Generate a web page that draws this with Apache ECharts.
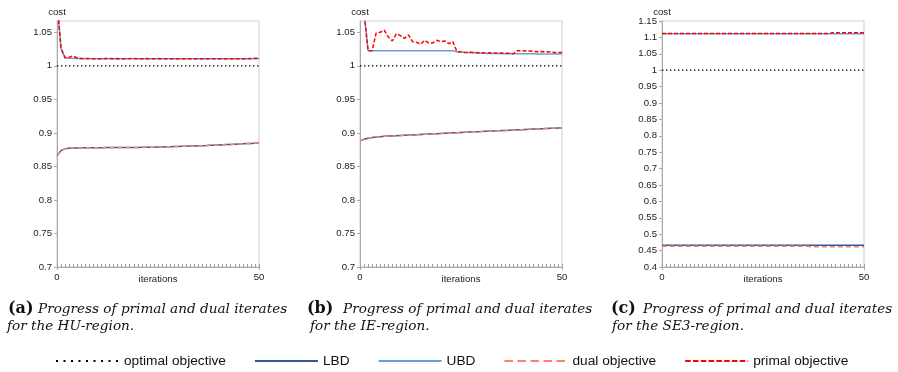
<!DOCTYPE html>
<html><head><meta charset="utf-8">
<script src="https://cdn.jsdelivr.net/npm/echarts@6/dist/echarts.min.js"></script>
<style>html,body{margin:0;padding:0;background:#fff}#c{width:898px;height:372px}</style>
</head><body><div id="c"></div>
<script>
const iterations = [0,1,2,3,4,5,6,7,8,9,10,11,12,13,14,15,16,17,18,19,20,21,22,23,24,25,26,27,28,29,30,31,32,33,34,35,36,37,38,39,40,41,42,43,44,45,46,47,48,49,50];
const xTickLabels = [0, 50];
const optimalIters = [0, 50];
const optimal = [1, 1];

// (a) HU-region
const primalA = [
 1.095, 1.026, 1.012, 1.0126, 1.0146, 1.0116, 1.0108, 1.0107, 1.0108, 1.0106,
 1.0107, 1.0106, 1.0107, 1.0108, 1.0106, 1.0107, 1.0106, 1.0106, 1.0107, 1.0109,
 1.0106, 1.0106, 1.0107, 1.0106, 1.0106, 1.0107, 1.0106, 1.0106, 1.0105, 1.0106,
 1.0106, 1.0105, 1.0106, 1.0105, 1.0105, 1.0106, 1.0105, 1.0105, 1.0105, 1.0104,
 1.0105, 1.0105, 1.0104, 1.0105, 1.0104, 1.0104, 1.0105, 1.0106, 1.0109, 1.0112,
 1.0114];
const ubdA = [
 1.095, 1.026, 1.0115, 1.0112, 1.011, 1.0108, 1.0106, 1.0105, 1.0105, 1.0105,
 1.0105, 1.0105, 1.0105, 1.0105, 1.0105, 1.0105, 1.0105, 1.0105, 1.0105, 1.0105,
 1.0105, 1.0105, 1.0105, 1.0105, 1.0105, 1.0105, 1.0105, 1.0105, 1.0104, 1.0104,
 1.0104, 1.0104, 1.0104, 1.0104, 1.0104, 1.0104, 1.0104, 1.0104, 1.0104, 1.0104,
 1.0104, 1.0104, 1.0104, 1.0104, 1.0104, 1.0104, 1.0104, 1.0104, 1.0104, 1.0104,
 1.0104];
const lbdA = [
 0.866, 0.8735, 0.8765, 0.8771, 0.8774, 0.8776, 0.8777, 0.8778, 0.8778, 0.8779,
 0.8779, 0.8779, 0.878, 0.878, 0.878, 0.8781, 0.8781, 0.8781, 0.8782, 0.8782,
 0.8783, 0.8784, 0.8785, 0.8786, 0.8787, 0.8789, 0.879, 0.8792, 0.8794, 0.8796,
 0.8798, 0.88, 0.8801, 0.8803, 0.8805, 0.8807, 0.8809, 0.8811, 0.8814, 0.8816,
 0.8819, 0.8822, 0.8825, 0.8828, 0.8831, 0.8834, 0.8837, 0.884, 0.8843, 0.8846,
 0.8848];
const dualA = [
 0.8655, 0.8733, 0.8764, 0.877, 0.8774, 0.8775, 0.8777, 0.8777, 0.8778, 0.8779,
 0.8778, 0.8779, 0.878, 0.8779, 0.878, 0.8781, 0.878, 0.8781, 0.8782, 0.8781,
 0.8783, 0.8783, 0.8785, 0.8786, 0.8786, 0.8789, 0.8789, 0.8792, 0.8793, 0.8796,
 0.8797, 0.88, 0.8801, 0.8802, 0.8805, 0.8806, 0.8809, 0.881, 0.8814, 0.8815,
 0.8819, 0.8821, 0.8825, 0.8827, 0.8831, 0.8833, 0.8837, 0.8839, 0.8843, 0.8845,
 0.8848];

// (b) IE-region
const primalB = [
 1.2, 1.08, 1.0225, 1.0225, 1.049, 1.050, 1.053, 1.043, 1.037, 1.048,
 1.045, 1.041, 1.046, 1.036, 1.035, 1.032, 1.038, 1.034, 1.034, 1.038,
 1.036, 1.037, 1.033, 1.036, 1.021, 1.021, 1.020, 1.0205, 1.020, 1.0195,
 1.0195, 1.019, 1.0193, 1.019, 1.0187, 1.019, 1.0188, 1.0187, 1.018, 1.0227,
 1.0225, 1.0222, 1.022, 1.0215, 1.021, 1.0212, 1.021, 1.0205, 1.020, 1.0198,
 1.020];
const ubdB = [
 1.2, 1.08, 1.0225, 1.0225, 1.0225, 1.0225, 1.0225, 1.0225, 1.0225, 1.0225,
 1.0225, 1.0225, 1.0225, 1.0225, 1.0225, 1.0225, 1.0225, 1.0225, 1.0225, 1.0225,
 1.0225, 1.0225, 1.0225, 1.0225, 1.021, 1.0205, 1.0198, 1.0196, 1.0193, 1.019,
 1.0188, 1.0186, 1.0185, 1.0184, 1.0183, 1.0182, 1.0181, 1.018, 1.0179, 1.0179,
 1.0179, 1.0178, 1.0178, 1.0178, 1.0177, 1.0177, 1.0177, 1.0177, 1.0177, 1.0177,
 1.0177];
const lbdB = [
 0.888, 0.8905, 0.892, 0.893, 0.8937, 0.8943, 0.8948, 0.8952, 0.8955, 0.8958,
 0.8961, 0.8964, 0.8967, 0.897, 0.8973, 0.8976, 0.8979, 0.8982, 0.8985, 0.8988,
 0.8991, 0.8994, 0.8997, 0.9, 0.9003, 0.9006, 0.9009, 0.9012, 0.9015, 0.9018,
 0.902, 0.9023, 0.9026, 0.9029, 0.9032, 0.9034, 0.9037, 0.904, 0.9043, 0.9046,
 0.9048, 0.9051, 0.9054, 0.9057, 0.9059, 0.9062, 0.9065, 0.9068, 0.907, 0.9073,
 0.9076];
const dualB = [
 0.8878, 0.8903, 0.8919, 0.8929, 0.8937, 0.8942, 0.8948, 0.8951, 0.8955, 0.8957,
 0.8961, 0.8963, 0.8967, 0.8969, 0.8973, 0.8975, 0.8979, 0.8981, 0.8985, 0.8987,
 0.8991, 0.8993, 0.8997, 0.8999, 0.9003, 0.9005, 0.9009, 0.9011, 0.9015, 0.9017,
 0.902, 0.9022, 0.9026, 0.9028, 0.9032, 0.9033, 0.9037, 0.9039, 0.9043, 0.9045,
 0.9048, 0.905, 0.9054, 0.9056, 0.9059, 0.9061, 0.9065, 0.9067, 0.907, 0.9072,
 0.9076];

// (c) SE3-region
const primalC = [
 1.112, 1.112, 1.112, 1.112, 1.112, 1.112, 1.112, 1.112, 1.112, 1.112,
 1.112, 1.112, 1.112, 1.112, 1.112, 1.112, 1.112, 1.112, 1.112, 1.112,
 1.112, 1.112, 1.112, 1.112, 1.112, 1.112, 1.112, 1.112, 1.112, 1.112,
 1.112, 1.112, 1.112, 1.112, 1.112, 1.112, 1.112, 1.112, 1.112, 1.112,
 1.112, 1.112, 1.1138, 1.1138, 1.1138, 1.1138, 1.1138, 1.1138, 1.1138, 1.1138,
 1.1138];
const ubdC = [
 1.1115, 1.1115, 1.1115, 1.1115, 1.1115, 1.1115, 1.1115, 1.1115, 1.1115, 1.1115,
 1.1115, 1.1115, 1.1115, 1.1115, 1.1115, 1.1115, 1.1115, 1.1115, 1.1115, 1.1115,
 1.1115, 1.1115, 1.1115, 1.1115, 1.1115, 1.1115, 1.1115, 1.1115, 1.1115, 1.1115,
 1.1115, 1.1115, 1.1115, 1.1115, 1.1115, 1.1115, 1.1115, 1.1115, 1.1115, 1.1115,
 1.1115, 1.1115, 1.1115, 1.1115, 1.1115, 1.1115, 1.1115, 1.1115, 1.1115, 1.1115,
 1.1115];
const lbdC = [
 0.466, 0.466, 0.466, 0.466, 0.466, 0.466, 0.466, 0.466, 0.466, 0.466,
 0.466, 0.466, 0.466, 0.466, 0.466, 0.466, 0.466, 0.466, 0.466, 0.466,
 0.466, 0.466, 0.466, 0.466, 0.466, 0.466, 0.466, 0.466, 0.466, 0.466,
 0.466, 0.466, 0.466, 0.466, 0.466, 0.466, 0.466, 0.466, 0.466, 0.466,
 0.466, 0.466, 0.466, 0.466, 0.466, 0.466, 0.466, 0.466, 0.466, 0.466,
 0.466];
const dualC = [
 0.4635, 0.4635, 0.4635, 0.4635, 0.4635, 0.4635, 0.4635, 0.4635, 0.4635, 0.4635,
 0.4635, 0.4635, 0.4635, 0.4635, 0.4635, 0.4635, 0.4635, 0.4635, 0.4635, 0.4635,
 0.4635, 0.4635, 0.4635, 0.4635, 0.4635, 0.4635, 0.4635, 0.4635, 0.4635, 0.4635,
 0.4635, 0.4635, 0.4635, 0.4635, 0.4635, 0.4635, 0.4635, 0.4618, 0.4618, 0.4618,
 0.4618, 0.4618, 0.4618, 0.4618, 0.4618, 0.4618, 0.4618, 0.4618, 0.4618, 0.4618,
 0.4618];

const seriesNames = ['optimal objective', 'LBD', 'UBD', 'dual objective', 'primal objective'];
const captionLabels = ['(a)', '(b)', '(c)'];
const captionLine1 = ['Progress of primal and dual iterates', 'Progress of primal and dual iterates', 'Progress of primal and dual iterates'];
const captionLine2 = ['for the HU-region.', 'for the IE-region.', 'for the SE3-region.'];

const panels = [
  {left: 57, yMin: 0.7, yMax: 1.0668, data: [lbdA, ubdA, dualA, primalA], capX: [8, 38, 7]},
  {left: 360, yMin: 0.7, yMax: 1.0668, data: [lbdB, ubdB, dualB, primalB], capX: [307, 343, 310]},
  {left: 662, yMin: 0.4, yMax: 1.15, data: [lbdC, ubdC, dualC, primalC], capX: [611, 643, 612]}
];

const SANS = 'Liberation Sans';
const colors = {opt: '#000000', lbd: '#2b5c96', ubd: '#6c9fd8', dual: '#ff8266', primal: '#ff0000'};
const styles = [
  {color: colors.opt, type: [1.4, 2.6], width: 1.2},
  {color: colors.lbd, type: 'solid', width: 1.5},
  {color: colors.ubd, type: 'solid', width: 1.5},
  {color: colors.dual, type: [5, 3], width: 1.5},
  {color: colors.primal, type: [4, 2], width: 1.5}
];

const grids = [], xAxes = [], yAxes = [], series = [], graphics = [];
panels.forEach((p, k) => {
  grids.push({left: p.left, top: 21, width: 202, height: 246, show: true, borderColor: '#cfcfcf', borderWidth: 1, backgroundColor: 'transparent'});
  xAxes.push({
    type: 'value', gridIndex: k, min: 0, max: 50, interval: 50, position: 'bottom',
    name: 'iterations', nameLocation: 'middle', nameGap: 7, nameMoveOverlap: false,
    nameTextStyle: {fontFamily: SANS, fontSize: 9.6, color: '#222'},
    axisLine: {show: true, onZero: false, lineStyle: {color: '#a9a9a9', width: 1}},
    axisTick: {show: true, inside: false, length: 3, lineStyle: {color: '#a9a9a9'}},
    axisLabel: {show: true, margin: 5, fontFamily: SANS, fontSize: 9.6, color: '#222',
      formatter: v => xTickLabels.indexOf(v) >= 0 ? String(v) : ''},
    splitLine: {show: false}
  });
  xAxes.push({
    type: 'value', gridIndex: k, min: 0, max: 50, interval: 1, position: 'bottom',
    axisLine: {show: false, onZero: false},
    axisTick: {show: true, inside: true, length: 3, lineStyle: {color: '#a0a0a0'}},
    axisLabel: {show: false}, splitLine: {show: false}
  });
  yAxes.push({
    type: 'value', gridIndex: k, min: p.yMin, max: p.yMax, interval: 0.05,
    name: 'cost', nameLocation: 'end', nameGap: 4, nameMoveOverlap: false,
    nameTextStyle: {fontFamily: SANS, fontSize: 9.6, color: '#222', align: 'center'},
    axisLine: {show: true, lineStyle: {color: '#a9a9a9', width: 1}},
    axisTick: {show: true, length: 3, lineStyle: {color: '#a9a9a9'}},
    axisLabel: {margin: 5, fontFamily: SANS, fontSize: 9.6, color: '#222', showMaxLabel: k === 2},
    splitLine: {show: false}
  });
  const xi = 2 * k;
  series.push({
    name: seriesNames[0], type: 'line', xAxisIndex: xi, yAxisIndex: k, symbol: 'none', z: 2,
    data: optimalIters.map((x, j) => [x, optimal[j]]),
    lineStyle: styles[0], itemStyle: {color: styles[0].color}
  });
  for (let s = 0; s < 4; s++) {
    const st = styles[s + 1];
    series.push({
      name: seriesNames[s + 1], type: 'line', xAxisIndex: xi, yAxisIndex: k, symbol: 'none', z: 3 + s,
      data: iterations.map((x, j) => [x, p.data[s][j]]),
      lineStyle: st, itemStyle: {color: st.color}
    });
  }
  graphics.push({type: 'text', x: p.capX[0], y: 309, style: {text: captionLabels[k], font: 'bold 16px "DejaVu Serif"', fill: '#111', verticalAlign: 'middle'}});
  graphics.push({type: 'text', x: p.capX[1], y: 309, style: {text: captionLine1[k], font: 'italic 13.6px "DejaVu Serif"', fill: '#111', verticalAlign: 'middle'}});
  graphics.push({type: 'text', x: p.capX[2], y: 326.5, style: {text: captionLine2[k], font: 'italic 13.6px "DejaVu Serif"', fill: '#111', verticalAlign: 'middle'}});
});

const legendLine = [
  {type: [2, 5.5], width: 2},
  {type: 'solid', width: 2},
  {type: 'solid', width: 2},
  {type: [8.5, 4.5], width: 2},
  {type: [5.5, 2.3], width: 2}
];

const chart = echarts.init(document.getElementById('c'), null, {renderer: 'canvas'});
chart.setOption({
  animation: false,
  backgroundColor: '#ffffff',
  grid: grids, xAxis: xAxes, yAxis: yAxes, series: series,
  legend: {
    left: 55, top: 354, padding: 0, itemWidth: 63, itemHeight: 14, itemGap: 28,
    selectedMode: false,
    textStyle: {fontFamily: SANS, fontSize: 13.7, color: '#111'},
    data: seriesNames.map((n, i) => ({name: n, lineStyle: legendLine[i], itemStyle: {opacity: 0}}))
  },
  graphic: graphics
});
</script></body></html>
